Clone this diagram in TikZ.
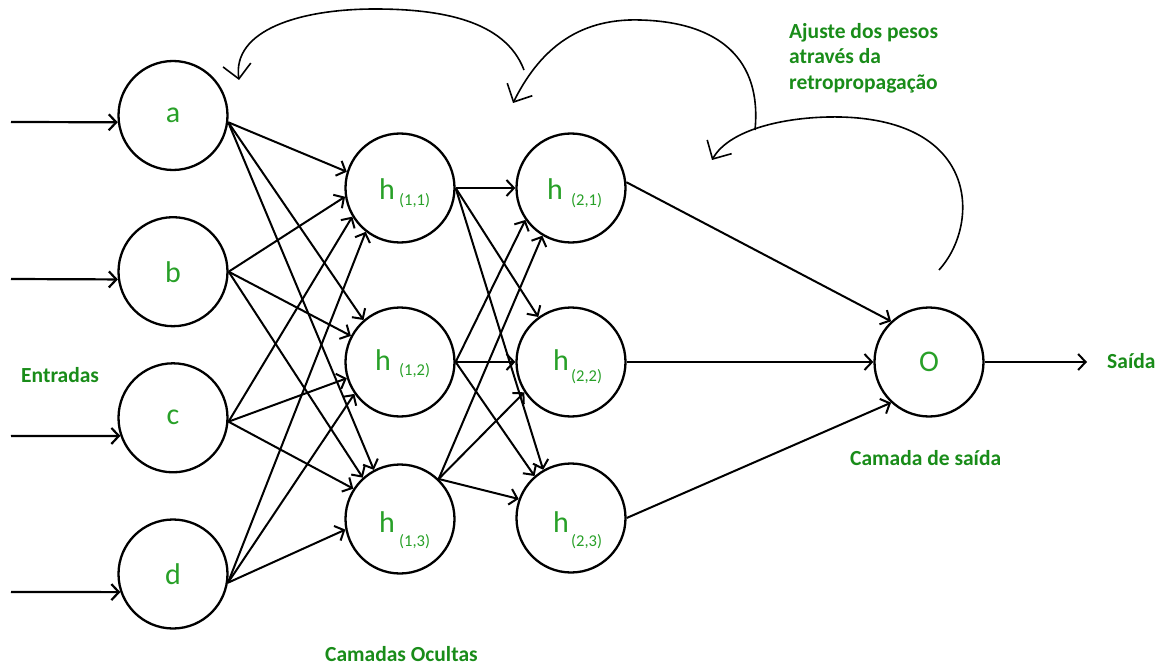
\documentclass[tikz,border=0pt]{standalone}
\usepackage{fontspec}
\setmainfont{Carlito}
\usetikzlibrary{arrows.meta}
\definecolor{nodegreen}{RGB}{40,160,40}
\definecolor{labelgreen}{RGB}{25,140,25}
\begin{document}
\begin{tikzpicture}[x=1pt,y=-1pt,
  neuron/.style={circle, draw, line width=2.3pt, minimum size=109pt, inner sep=0pt,
                 text=nodegreen, font=\fontsize{30}{30}\selectfont},
  hlab/.style={inner sep=0pt, anchor=base west, text=nodegreen, font=\fontsize{30}{30}\selectfont},
  sublab/.style={inner sep=0pt, anchor=base west, text=nodegreen, font=\fontsize{16.5}{16.5}\selectfont},
  caption/.style={inner sep=0pt, anchor=base west, text=labelgreen, font=\fontsize{21.5}{25.5}\selectfont\bfseries},
  link/.style={line width=2pt, -{Straight Barb[length=7.5pt,width=16pt]}},
  feed/.style={line width=2.2pt, -{Straight Barb[length=7.5pt,width=16pt]}},
  backprop/.style={line width=1.6pt, -{Straight Barb[length=14pt,width=28pt]}}]
\useasboundingbox (0,0) rectangle (1163,666);

% input layer
\node[neuron] (a) at (173,115.5) {a};
\node[neuron] (b) at (173,271.7) {b};
\node[neuron] (c) at (173,417.8) {c};
\node[neuron] (d) at (173,574) {d};

% hidden layers
\node[neuron] (h11) at (400,188) {};
\node[neuron] (h12) at (400,362) {};
\node[neuron] (h13) at (400,519) {};
\node[neuron] (h21) at (571,188) {};
\node[neuron] (h22) at (571,362) {};
\node[neuron] (h23) at (571,518) {};

% output neuron
\node[neuron] (O) at (929,362) {O};

% neuron names with indices
\node[hlab] (h11h) at (379,200) {h};  \node[sublab] (h11s) at (399,205) {(1,1)};
\node[hlab] (h12h) at (375,370) {h};  \node[sublab] (h12s) at (399,375) {(1,2)};
\node[hlab] (h13h) at (379,532) {h};  \node[sublab] (h13s) at (399,546) {(1,3)};
\node[hlab] (h21h) at (547,200) {h};  \node[sublab] (h21s) at (571,206) {(2,1)};
\node[hlab] (h22h) at (553,370) {h};  \node[sublab] (h22s) at (571,381) {(2,2)};
\node[hlab] (h23h) at (553,532) {h};  \node[sublab] (h23s) at (571,546) {(2,3)};

% inputs
\coordinate (ina) at (11,122);
\coordinate (inb) at (11,279);
\coordinate (inc) at (11,436);
\coordinate (ind) at (11,592);
\draw[feed] (ina) -- (a.187);
\draw[feed] (inb) -- (b.188);
\draw[feed] (inc) -- (c.199);
\draw[feed] (ind) -- (d.199);

% input layer -> first hidden layer
\draw[link] (a.-7) -- (h11.163);
\draw[link] (a.-7) -- (h12.131);
\draw[link] (a.-7) -- (h13.118);
\draw[link] (b.0) -- (h11.189);
\draw[link] (b.0) -- (h12.152);
\draw[link] (b.0) -- (h13.132);
\draw[link] (c.-4) -- (h11.211);
\draw[link] (c.-4) -- (h12.197);
\draw[link] (c.-4) -- (h13.147);
\draw[link] (d.-9) -- (h11.232);
\draw[link] (d.-9) -- (h12.215);
\draw[link] (d.-9) -- (h13.191);

% first hidden layer -> second hidden layer
\draw[link] (h11.0) -- (h21.180);
\draw[link] (h11.0) -- (h22.126);
\draw[link] (h11.0) -- (h23.120);
\draw[link] (h12.0) -- (h21.215);
\draw[link] (h12.0) -- (h22.180);
\draw[link] (h12.0) -- (h23.131);
\draw[link] (h13.46) -- (h21.239);
\draw[link] (h13.46) -- (h22.213);
\draw[link] (h13.46) -- (h23.160);

% second hidden layer -> output
\draw[link] (h21.6) -- (O.133);
\draw[link] (h22.0) -- (O.180);
\draw[link] (h23.0) -- (O.227);
\coordinate (out) at (1087,362);
\draw[link] (O.0) -- (out);

% backpropagation arcs
\coordinate (bp1s) at (524,70);
\coordinate (bp1e) at (239,80);
\coordinate (bp2s) at (755,130);
\coordinate (bp2e) at (513,103);
\coordinate (bp3s) at (939,270);
\coordinate (bp3e) at (712,160);
\draw[backprop] (bp1s) .. controls (505,20) and (440,9) .. (375,9)
                       .. controls (300,9) and (232,30) .. (bp1e);
\draw[backprop] (bp2s) .. controls (762,60) and (720,22) .. (640,20)
                       .. controls (575,18) and (538,53) .. (bp2e);
\draw[backprop] (bp3s) .. controls (980,225) and (980,120) .. (840,117)
                       .. controls (790,116) and (730,128) .. (bp3e);

% captions
\node[caption] (entradas) at (21,382) {Entradas};
\node[caption] (ocultas) at (325,661) {Camadas Ocultas};
\node[caption] (camsaida) at (850,465) {Camada de saída};
\node[caption] (saida) at (1107,368) {Saída};
\node[caption, anchor=north west, align=left] (ajuste) at (789,23)
  {Ajuste dos pesos\\através da\\retropropagação};
\end{tikzpicture}
\end{document}
